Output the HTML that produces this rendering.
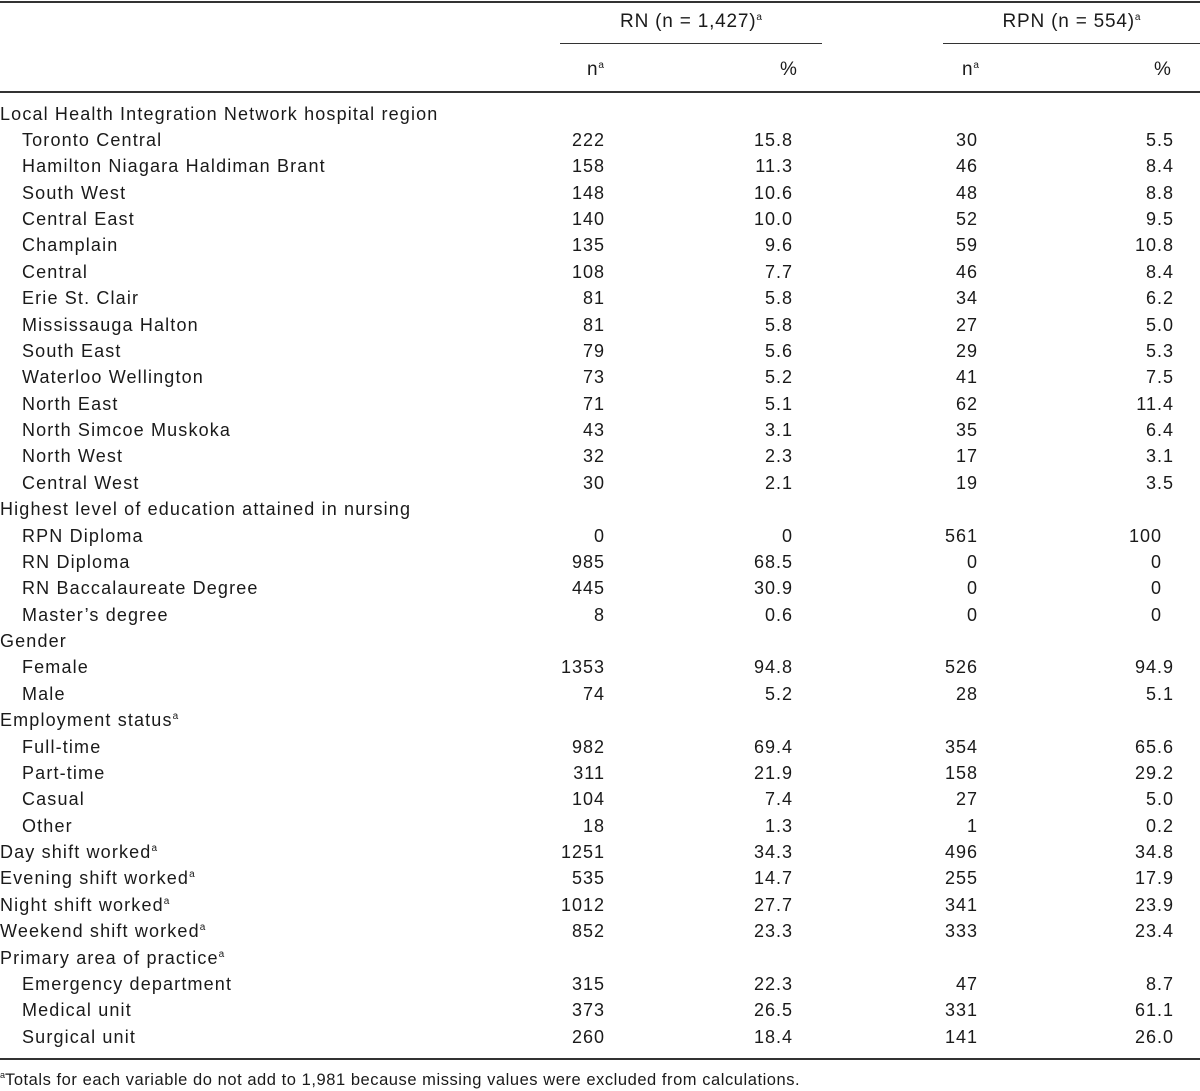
<!DOCTYPE html>
<html><head><style>
body{margin:0;width:1200px;height:1090px;background:#fff;font-family:"Liberation Sans",sans-serif;font-size:18px;color:#1a1a1a;position:relative;overflow:hidden}
.l{position:absolute;background:#333;height:1.5px}
.h{position:absolute;top:10px;line-height:24px;white-space:nowrap;letter-spacing:0.8px;font-size:19px}
table{position:absolute;top:100.5px;left:0;width:1200px;border-collapse:collapse;table-layout:fixed}
td{height:26.37px;padding:0;line-height:26.37px;white-space:nowrap;overflow:visible;font-size:18px;letter-spacing:1.15px}
td.n{text-align:right;letter-spacing:1px}
.i{padding-left:22px}
sup{font-size:10px;vertical-align:7px;line-height:0;letter-spacing:0}
</style></head><body>
<div class="l" style="top:1px;left:0;width:1200px"></div>
<div class="h" style="left:560px;width:262px;text-align:center">RN (n = 1,427)<sup>a</sup></div>
<div class="h" style="left:943px;width:257px;text-align:center">RPN (n = 554)<sup>a</sup></div>
<div class="l" style="top:43px;left:560px;width:262px;height:1.2px"></div>
<div class="l" style="top:43px;left:943px;width:257px;height:1.2px"></div>
<div class="h" style="top:58px;left:587px">n<sup>a</sup></div>
<div class="h" style="top:58px;left:780px">%</div>
<div class="h" style="top:58px;left:962px">n<sup>a</sup></div>
<div class="h" style="top:58px;left:1154px">%</div>
<div class="l" style="top:91px;left:0;width:1200px"></div>
<table>
<colgroup><col style="width:520px"><col style="width:85px"><col style="width:188px"><col style="width:185px"><col style="width:196px"><col style="width:26px"></colgroup>
<tr><td>Local Health Integration Network hospital region</td><td></td><td></td><td></td><td></td><td></td></tr>
<tr><td class="i">Toronto Central</td><td class="n">222</td><td class="n">15.8</td><td class="n">30</td><td class="n">5.5</td><td></td></tr>
<tr><td class="i">Hamilton Niagara Haldiman Brant</td><td class="n">158</td><td class="n">11.3</td><td class="n">46</td><td class="n">8.4</td><td></td></tr>
<tr><td class="i">South West</td><td class="n">148</td><td class="n">10.6</td><td class="n">48</td><td class="n">8.8</td><td></td></tr>
<tr><td class="i">Central East</td><td class="n">140</td><td class="n">10.0</td><td class="n">52</td><td class="n">9.5</td><td></td></tr>
<tr><td class="i">Champlain</td><td class="n">135</td><td class="n">9.6</td><td class="n">59</td><td class="n">10.8</td><td></td></tr>
<tr><td class="i">Central</td><td class="n">108</td><td class="n">7.7</td><td class="n">46</td><td class="n">8.4</td><td></td></tr>
<tr><td class="i">Erie St. Clair</td><td class="n">81</td><td class="n">5.8</td><td class="n">34</td><td class="n">6.2</td><td></td></tr>
<tr><td class="i">Mississauga Halton</td><td class="n">81</td><td class="n">5.8</td><td class="n">27</td><td class="n">5.0</td><td></td></tr>
<tr><td class="i">South East</td><td class="n">79</td><td class="n">5.6</td><td class="n">29</td><td class="n">5.3</td><td></td></tr>
<tr><td class="i">Waterloo Wellington</td><td class="n">73</td><td class="n">5.2</td><td class="n">41</td><td class="n">7.5</td><td></td></tr>
<tr><td class="i">North East</td><td class="n">71</td><td class="n">5.1</td><td class="n">62</td><td class="n">11.4</td><td></td></tr>
<tr><td class="i">North Simcoe Muskoka</td><td class="n">43</td><td class="n">3.1</td><td class="n">35</td><td class="n">6.4</td><td></td></tr>
<tr><td class="i">North West</td><td class="n">32</td><td class="n">2.3</td><td class="n">17</td><td class="n">3.1</td><td></td></tr>
<tr><td class="i">Central West</td><td class="n">30</td><td class="n">2.1</td><td class="n">19</td><td class="n">3.5</td><td></td></tr>
<tr><td>Highest level of education attained in nursing</td><td></td><td></td><td></td><td></td><td></td></tr>
<tr><td class="i">RPN Diploma</td><td class="n">0</td><td class="n">0</td><td class="n">561</td><td class="n">100&nbsp;&nbsp;</td><td></td></tr>
<tr><td class="i">RN Diploma</td><td class="n">985</td><td class="n">68.5</td><td class="n">0</td><td class="n">0&nbsp;&nbsp;</td><td></td></tr>
<tr><td class="i">RN Baccalaureate Degree</td><td class="n">445</td><td class="n">30.9</td><td class="n">0</td><td class="n">0&nbsp;&nbsp;</td><td></td></tr>
<tr><td class="i">Master’s degree</td><td class="n">8</td><td class="n">0.6</td><td class="n">0</td><td class="n">0&nbsp;&nbsp;</td><td></td></tr>
<tr><td>Gender</td><td></td><td></td><td></td><td></td><td></td></tr>
<tr><td class="i">Female</td><td class="n">1353</td><td class="n">94.8</td><td class="n">526</td><td class="n">94.9</td><td></td></tr>
<tr><td class="i">Male</td><td class="n">74</td><td class="n">5.2</td><td class="n">28</td><td class="n">5.1</td><td></td></tr>
<tr><td>Employment status<sup>a</sup></td><td></td><td></td><td></td><td></td><td></td></tr>
<tr><td class="i">Full-time</td><td class="n">982</td><td class="n">69.4</td><td class="n">354</td><td class="n">65.6</td><td></td></tr>
<tr><td class="i">Part-time</td><td class="n">311</td><td class="n">21.9</td><td class="n">158</td><td class="n">29.2</td><td></td></tr>
<tr><td class="i">Casual</td><td class="n">104</td><td class="n">7.4</td><td class="n">27</td><td class="n">5.0</td><td></td></tr>
<tr><td class="i">Other</td><td class="n">18</td><td class="n">1.3</td><td class="n">1</td><td class="n">0.2</td><td></td></tr>
<tr><td>Day shift worked<sup>a</sup></td><td class="n">1251</td><td class="n">34.3</td><td class="n">496</td><td class="n">34.8</td><td></td></tr>
<tr><td>Evening shift worked<sup>a</sup></td><td class="n">535</td><td class="n">14.7</td><td class="n">255</td><td class="n">17.9</td><td></td></tr>
<tr><td>Night shift worked<sup>a</sup></td><td class="n">1012</td><td class="n">27.7</td><td class="n">341</td><td class="n">23.9</td><td></td></tr>
<tr><td>Weekend shift worked<sup>a</sup></td><td class="n">852</td><td class="n">23.3</td><td class="n">333</td><td class="n">23.4</td><td></td></tr>
<tr><td>Primary area of practice<sup>a</sup></td><td></td><td></td><td></td><td></td><td></td></tr>
<tr><td class="i">Emergency department</td><td class="n">315</td><td class="n">22.3</td><td class="n">47</td><td class="n">8.7</td><td></td></tr>
<tr><td class="i">Medical unit</td><td class="n">373</td><td class="n">26.5</td><td class="n">331</td><td class="n">61.1</td><td></td></tr>
<tr><td class="i">Surgical unit</td><td class="n">260</td><td class="n">18.4</td><td class="n">141</td><td class="n">26.0</td><td></td></tr>
</table>
<div class="l" style="top:1058px;left:0;width:1200px"></div>
<div style="position:absolute;top:1069px;left:0;font-size:16.5px;letter-spacing:0.55px;line-height:22px;white-space:nowrap"><sup style="font-size:9px">a</sup>Totals for each variable do not add to 1,981 because missing values were excluded from calculations.</div>
</body></html>
